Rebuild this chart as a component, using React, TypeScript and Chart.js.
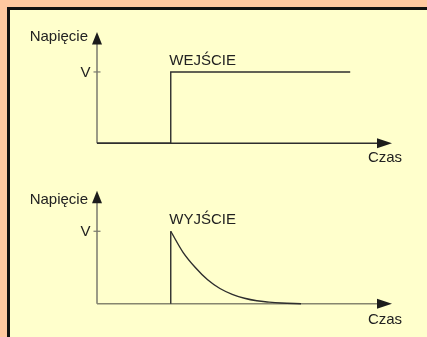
import React, { useEffect, useRef } from "react";
import { Chart, registerables } from "chart.js";

Chart.register(...registerables);

// ---- data ----
const timeMin = 0;
const timeMax = 12;
const voltMin = 0;
const voltMax = 1.56;
const voltTick = 1;

const yTitle = "Napięcie";
const xTitle = "Czas";
const tickLabel = "V";
const inputTitle = "WEJŚCIE";
const outputTitle = "WYJŚCIE";

const inputTime = [0, 3, 3, 10.3];
const inputVolt = [0, 0, 1, 1];

const edgeTime = [3, 3];
const edgeVolt = [0, 1];

const decayTime = [3, 3.5, 4, 4.5, 5, 5.5, 6, 6.5, 7, 7.5, 8.3];
const decayVolt = [1, 0.71, 0.5, 0.33, 0.21, 0.13, 0.075, 0.04, 0.022, 0.01, 0];

const FONT = "15px 'Liberation Sans', Arial, Helvetica, sans-serif";

const axesPlugin = {
  id: "osie",
  beforeDatasetsDraw(chart: any, _args: any, opts: any) {
    const { ctx } = chart;
    const xs = chart.scales.x;
    const ys = chart.scales.y;
    const x0 = xs.getPixelForValue(timeMin);
    const y0 = ys.getPixelForValue(voltMin);
    const xTip = xs.getPixelForValue(timeMax);
    const yTip = ys.getPixelForValue(voltMax);
    const yV = ys.getPixelForValue(voltTick);
    ctx.save();
    ctx.lineWidth = 1.5;
    // y axis
    ctx.strokeStyle = opts.yAxisColor;
    ctx.beginPath();
    ctx.moveTo(x0, y0);
    ctx.lineTo(x0, yTip + 12);
    ctx.stroke();
    // tick at V
    ctx.lineWidth = 1.2;
    ctx.beginPath();
    ctx.moveTo(x0 - 3.5, yV);
    ctx.lineTo(x0 + 3.5, yV);
    ctx.stroke();
    // x axis
    ctx.lineWidth = 1.5;
    ctx.strokeStyle = opts.xAxisColor;
    ctx.beginPath();
    ctx.moveTo(x0, y0);
    ctx.lineTo(xTip - 14, y0);
    ctx.stroke();
    // arrows
    ctx.fillStyle = "#1c1c1c";
    ctx.beginPath();
    ctx.moveTo(x0, yTip);
    ctx.lineTo(x0 - 5, yTip + 12.5);
    ctx.lineTo(x0 + 5, yTip + 12.5);
    ctx.closePath();
    ctx.fill();
    ctx.beginPath();
    ctx.moveTo(xTip, y0);
    ctx.lineTo(xTip - 15, y0 - 5);
    ctx.lineTo(xTip - 15, y0 + 5);
    ctx.closePath();
    ctx.fill();
    // texts
    ctx.font = FONT;
    ctx.fillStyle = "#222";
    ctx.textAlign = "right";
    ctx.textBaseline = "alphabetic";
    ctx.fillText(yTitle, x0 - 9, yTip + opts.yTitleDy);
    ctx.fillText(tickLabel, x0 - 6.5, yV + 5);
    ctx.textAlign = "left";
    ctx.fillText(opts.signal, xs.getPixelForValue(opts.signalTime) - 1.5, yV - 7);
    ctx.textAlign = "center";
    ctx.fillText(xTitle, xTip - 7, y0 + opts.xTitleDy);
    ctx.restore();
  },
};

function toPoints(t: number[], v: number[]) {
  return t.map((x, i) => ({ x, y: v[i] }));
}

function Wykres(props: {
  top: number;
  height: number;
  padTop: number;
  padBottom: number;
  which: "in" | "out";
}) {
  const ref = useRef<HTMLCanvasElement>(null);
  useEffect(() => {
    const lineStyle = {
      borderColor: "#2e2e2e",
      borderWidth: 1.4,
      pointRadius: 0,
      fill: false,
      clip: false as any,
    };
    const datasets: any[] =
      props.which === "in"
        ? [{ ...lineStyle, data: toPoints(inputTime, inputVolt), tension: 0 }]
        : [
            { ...lineStyle, data: toPoints(edgeTime, edgeVolt), tension: 0 },
            {
              ...lineStyle,
              data: toPoints(decayTime, decayVolt),
              cubicInterpolationMode: "monotone",
            },
          ];
    const pluginOpts =
      props.which === "in"
        ? {
            yAxisColor: "#7a7a6e",
            xAxisColor: "#2e2e2e",
            yTitleDy: 9,
            xTitleDy: 18.5,
            signal: inputTitle,
            signalTime: inputTime[1],
          }
        : {
            yAxisColor: "#7a7a6e",
            xAxisColor: "#86866f",
            yTitleDy: 13,
            xTitleDy: 20,
            signal: outputTitle,
            signalTime: edgeTime[0],
          };
    const chart = new Chart(ref.current as HTMLCanvasElement, {
      type: "line",
      data: { datasets },
      options: {
        responsive: false,
        animation: false,
        devicePixelRatio: 1,
        events: [],
        layout: {
          padding: { left: 97, right: 35, top: props.padTop, bottom: props.padBottom },
        },
        scales: {
          x: { type: "linear", min: timeMin, max: timeMax, display: false },
          y: { type: "linear", min: voltMin, max: voltMax, display: false },
        },
        plugins: {
          legend: { display: false },
          tooltip: { enabled: false },
          osie: pluginOpts,
        } as any,
      },
      plugins: [axesPlugin as any],
    });
    return () => chart.destroy();
  }, []);
  return (
    <canvas
      ref={ref}
      width={427}
      height={props.height}
      style={{ position: "absolute", left: 0, top: props.top, width: 427, height: props.height }}
    />
  );
}

export default function App() {
  return (
    <div
      style={{
        position: "fixed",
        left: 0,
        top: 0,
        width: 427,
        height: 337,
        overflow: "hidden",
        background: "#FFC8A0",
      }}
    >
      <div
        style={{
          position: "absolute",
          left: 7,
          top: 7,
          width: 420,
          height: 330,
          boxSizing: "border-box",
          borderTop: "3px solid #111",
          borderLeft: "3px solid #111",
          background: "#FFFFCC",
        }}
      />
      <Wykres top={0} height={170} padTop={32} padBottom={26.7} which="in" />
      <Wykres top={170} height={167} padTop={20.7} padBottom={33.3} which="out" />
    </div>
  );
}
